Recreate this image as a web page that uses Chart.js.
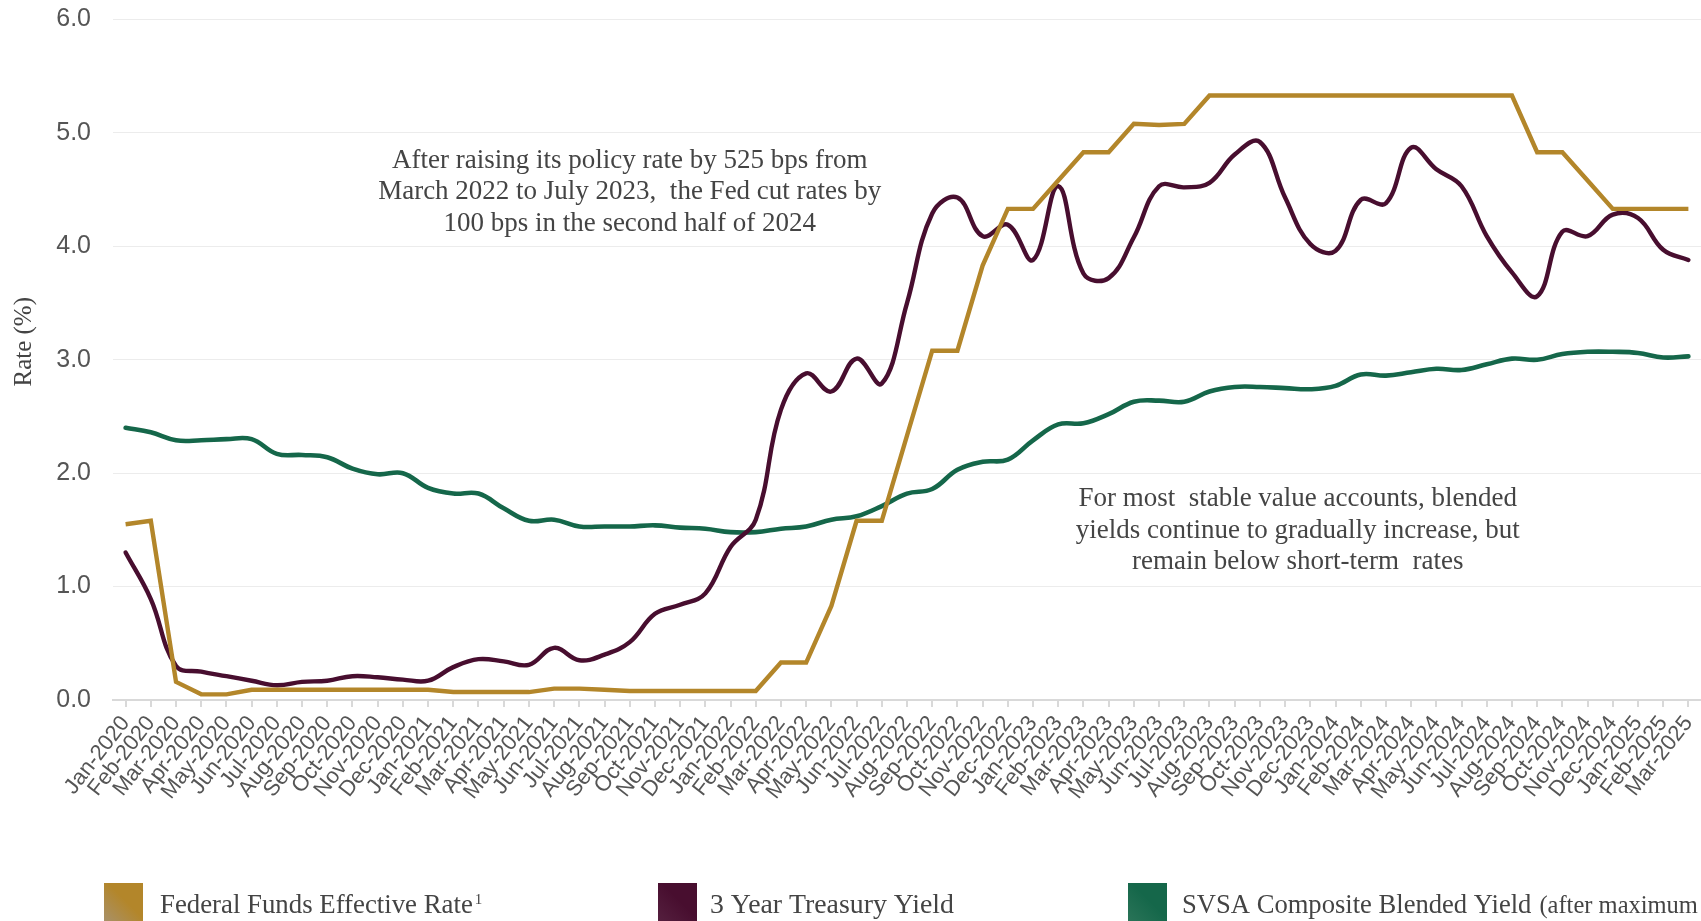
<!DOCTYPE html>
<html>
<head>
<meta charset="utf-8">
<title>Policy rates and stable value yields</title>
<script src="https://cdn.jsdelivr.net/npm/chart.js@4.4.1/dist/chart.umd.min.js"></script>
<style>
  html, body { margin: 0; padding: 0; background: #ffffff; overflow: hidden; }
  canvas { display: block; }
</style>
</head>
<body>
<canvas id="rates" width="1701" height="921"></canvas>
<script>
// Month-end observations, Jan-2020 .. Mar-2025
const months = [
  'Jan-2020','Feb-2020','Mar-2020','Apr-2020','May-2020','Jun-2020','Jul-2020','Aug-2020','Sep-2020','Oct-2020','Nov-2020','Dec-2020',
  'Jan-2021','Feb-2021','Mar-2021','Apr-2021','May-2021','Jun-2021','Jul-2021','Aug-2021','Sep-2021','Oct-2021','Nov-2021','Dec-2021',
  'Jan-2022','Feb-2022','Mar-2022','Apr-2022','May-2022','Jun-2022','Jul-2022','Aug-2022','Sep-2022','Oct-2022','Nov-2022','Dec-2022',
  'Jan-2023','Feb-2023','Mar-2023','Apr-2023','May-2023','Jun-2023','Jul-2023','Aug-2023','Sep-2023','Oct-2023','Nov-2023','Dec-2023',
  'Jan-2024','Feb-2024','Mar-2024','Apr-2024','May-2024','Jun-2024','Jul-2024','Aug-2024','Sep-2024','Oct-2024','Nov-2024','Dec-2024',
  'Jan-2025','Feb-2025','Mar-2025'
];

// Federal Funds Effective Rate (%)
const fedFundsRate = [
  1.55, 1.58, 0.16, 0.05, 0.05, 0.09, 0.09, 0.09, 0.09, 0.09, 0.09, 0.09,
  0.09, 0.07, 0.07, 0.07, 0.07, 0.10, 0.10, 0.09, 0.08, 0.08, 0.08, 0.08,
  0.08, 0.08, 0.33, 0.33, 0.83, 1.58, 1.58, 2.33, 3.08, 3.08, 3.83, 4.33,
  4.33, 4.58, 4.83, 4.83, 5.08, 5.07, 5.08, 5.33, 5.33, 5.33, 5.33, 5.33,
  5.33, 5.33, 5.33, 5.33, 5.33, 5.33, 5.33, 5.33, 4.83, 4.83, 4.58, 4.33,
  4.33, 4.33, 4.33
];

// 3 Year Treasury Yield (%)
const treasury3Year = [
  1.30, 0.89, 0.30, 0.25, 0.21, 0.17, 0.13, 0.16, 0.17, 0.21, 0.20, 0.18,
  0.17, 0.29, 0.36, 0.34, 0.31, 0.46, 0.35, 0.40, 0.51, 0.76, 0.84, 0.94,
  1.35, 1.59, 2.56, 2.88, 2.72, 3.01, 2.79, 3.50, 4.29, 4.43, 4.09, 4.19,
  3.88, 4.53, 3.76, 3.72, 4.08, 4.53, 4.52, 4.56, 4.81, 4.92, 4.43, 4.02,
  3.96, 4.41, 4.38, 4.87, 4.68, 4.53, 4.09, 3.77, 3.56, 4.13, 4.09, 4.28,
  4.25, 3.97, 3.88
];

// SVSA Composite Blended Yield (%)
const svsaBlendedYield = [
  2.40, 2.36, 2.29, 2.29, 2.30, 2.30, 2.17, 2.16, 2.14, 2.04, 1.99, 2.00,
  1.87, 1.82, 1.82, 1.69, 1.58, 1.59, 1.53, 1.53, 1.53, 1.54, 1.52, 1.51,
  1.48, 1.48, 1.51, 1.53, 1.59, 1.62, 1.71, 1.82, 1.86, 2.03, 2.10, 2.12,
  2.29, 2.43, 2.44, 2.52, 2.63, 2.64, 2.63, 2.72, 2.76, 2.76, 2.75, 2.74,
  2.77, 2.87, 2.86, 2.89, 2.92, 2.91, 2.96, 3.01, 3.00, 3.05, 3.07, 3.07,
  3.06, 3.02, 3.03
];

const seriesNames = ['Federal Funds Effective Rate', '3 Year Treasury Yield', 'SVSA Composite Blended Yield'];
const seriesNotes = ['1', '', '(after maximum'];
const yAxisMin = 0;
const yAxisMax = 6;
const yAxisStep = 1;
const yAxisTitle = 'Rate (%)';

const noteHikes = [
  'After raising its policy rate by 525 bps from',
  'March 2022 to July 2023,  the Fed cut rates by',
  '100 bps in the second half of 2024'
];
const noteStableValue = [
  'For most  stable value accounts, blended',
  'yields continue to gradually increase, but',
  'remain below short-term  rates'
];

const GOLD = '#b3862a';
const PLUM = '#480e2f';
const PINE = '#15674a';
const SERIF = '"Liberation Serif", "DejaVu Serif", serif';
const SANS = '"Liberation Sans", Arial, sans-serif';
const TEXT = '#444444';

// Centered multi-line text anchored to a category/value position
const notesPlugin = {
  id: 'chartNotes',
  afterDatasetsDraw(chart, args, opts) {
    const {ctx, scales: {x, y}} = chart;
    ctx.save();
    ctx.font = opts.font;
    ctx.fillStyle = opts.color;
    ctx.textAlign = 'center';
    ctx.textBaseline = 'middle';
    opts.items.forEach(item => {
      const cx = x.getPixelForValue(item.at);
      const cy = y.getPixelForValue(item.value);
      item.lines.forEach((line, i) => ctx.fillText(line, cx, cy + i * opts.lineHeight));
    });
    ctx.restore();
  }
};

// Rotated value-axis caption, set slightly above the plot's midline
const axisCaption = {
  id: 'axisCaption',
  afterDraw(chart, args, opts) {
    const {ctx, chartArea} = chart;
    ctx.save();
    ctx.translate(opts.x, (chartArea.top + chartArea.bottom) / 2 - opts.lift);
    ctx.rotate(-Math.PI / 2);
    ctx.font = opts.font;
    ctx.fillStyle = TEXT;
    ctx.textAlign = 'center';
    ctx.textBaseline = 'middle';
    ctx.fillText(yAxisTitle, 0, 0);
    ctx.restore();
  }
};

// Swatch legend along the bottom edge
const swatchLegend = {
  id: 'swatchLegend',
  afterDraw(chart, args, opts) {
    const ctx = chart.ctx;
    const top = chart.chartArea.bottom + opts.offsetY;
    ctx.save();
    chart.data.datasets.forEach((ds, i) => {
      const left = opts.starts[i];
      const g = ctx.createLinearGradient(left, top + opts.box, left + opts.box, top);
      g.addColorStop(0, opts.light[i]);
      g.addColorStop(0.55, ds.borderColor);
      g.addColorStop(1, ds.borderColor);
      ctx.fillStyle = g;
      ctx.fillRect(left, top, opts.box, opts.box);

      let tx = left + opts.box + opts.gaps[i];
      const base = top + opts.baseline;
      ctx.fillStyle = TEXT;
      ctx.textAlign = 'left';
      ctx.textBaseline = 'alphabetic';
      ctx.font = opts.fonts[i];
      ctx.fillText(ds.label, tx, base);
      tx += ctx.measureText(ds.label).width;
      const note = seriesNotes[i];
      if (note === '1') {
        ctx.font = opts.supFont;
        ctx.fillText(note, tx + 2, base - 9);
      } else if (note) {
        ctx.font = opts.noteFont;
        ctx.fillText(note, tx + 8, base);
      }
    });
    ctx.restore();
  }
};

new Chart(document.getElementById('rates'), {
  type: 'line',
  data: {
    labels: months,
    datasets: [
      { label: seriesNames[0], data: fedFundsRate, borderColor: GOLD, backgroundColor: GOLD, borderWidth: 4.4, tension: 0, pointRadius: 0 },
      { label: seriesNames[1], data: treasury3Year, borderColor: PLUM, backgroundColor: PLUM, borderWidth: 4.4, tension: 0.4, pointRadius: 0, borderCapStyle: 'round' },
      { label: seriesNames[2], data: svsaBlendedYield, borderColor: PINE, backgroundColor: PINE, borderWidth: 4.6, tension: 0.4, pointRadius: 0, borderCapStyle: 'round' }
    ]
  },
  options: {
    responsive: false,
    animation: false,
    devicePixelRatio: 1,
    layout: { padding: { top: 19.5, right: 0, bottom: 0, left: 0 } },
    plugins: {
      legend: { display: false },
      tooltip: { enabled: false },
      chartNotes: {
        font: '27px ' + SERIF,
        color: TEXT,
        lineHeight: 31.5,
        items: [
          { at: 20, value: 4.757, lines: noteHikes },
          { at: 46.5, value: 1.77, lines: noteStableValue }
        ]
      },
      axisCaption: {
        x: 24,
        lift: 18,
        font: '25px ' + SERIF
      },
      swatchLegend: {
        offsetY: 183,
        box: 39,
        gaps: [17, 13, 15],
        baseline: 30,
        starts: [104, 658, 1128],
        light: ['#a8916a', '#55203f', '#2a7458'],
        fonts: ['26.8px ' + SERIF, '27.8px ' + SERIF, '26.6px ' + SERIF],
        supFont: '15px ' + SERIF,
        noteFont: '24.5px ' + SERIF
      }
    },
    scales: {
      x: {
        type: 'category',
        offset: true,
        afterFit(scale) {
          scale.height = 221;
          scale.paddingLeft = 0;
          scale.paddingRight = 0;
        },
        grid: { display: true, drawOnChartArea: false, drawTicks: true, tickLength: 7, color: '#d9d9d9', lineWidth: 2 },
        border: { display: true, color: '#d9d9d9', width: 2 },
        ticks: {
          autoSkip: false,
          minRotation: 52,
          maxRotation: 52,
          padding: 4,
          color: '#555555',
          font: { family: SANS, size: 22 }
        }
      },
      y: {
        min: yAxisMin,
        max: yAxisMax,
        afterFit(scale) {
          scale.width = 113;
          scale.paddingTop = 0;
          scale.paddingBottom = 0;
        },
        grid: { color: '#ececec', lineWidth: 1, drawTicks: false },
        border: { display: false },
        ticks: {
          stepSize: yAxisStep,
          padding: 22,
          color: '#555555',
          font: { family: SANS, size: 25 },
          callback: v => Number(v).toFixed(1)
        },
        title: { display: false }
      }
    }
  },
  plugins: [notesPlugin, axisCaption, swatchLegend]
});
</script>
</body>
</html>
